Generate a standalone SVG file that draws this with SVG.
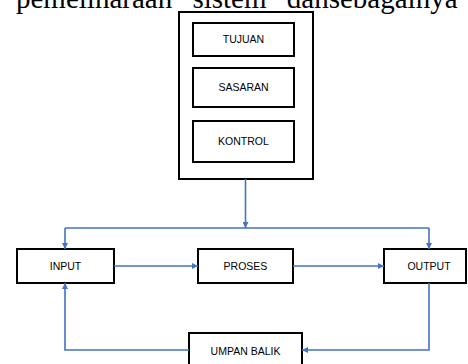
<svg xmlns="http://www.w3.org/2000/svg" width="468" height="364" viewBox="0 0 468 364">
<style>
.box{fill:#fff;stroke:#000;stroke-width:2}
.lbl{font-family:"Liberation Sans",Arial,sans-serif;font-size:10.5px;fill:#000;text-anchor:middle}
.con{fill:none;stroke:#4472C4;stroke-width:1.6}
.top{font-family:"Liberation Serif","Times New Roman",serif;font-size:29px;fill:#000}
</style>
<defs>
<marker id="ah" viewBox="0 0 10 10" refX="10" refY="5" markerWidth="6" markerHeight="6" markerUnits="userSpaceOnUse" orient="auto">
<path d="M0,0 L10,5 L0,10 z" fill="#4472C4"/>
</marker>
</defs>
<rect width="468" height="364" fill="#fff"/>
<g id="caption">
<text class="top" x="16" y="8" word-spacing="13">pemeliharaan sistem dansebagainya</text>
</g>
<g id="container"><rect class="box" x="179" y="12" width="134" height="167"/></g>
<g id="tujuan"><rect class="box" x="193" y="23" width="101" height="33"/><text class="lbl" x="243.5" y="43">TUJUAN</text></g>
<g id="sasaran"><rect class="box" x="193" y="68" width="101" height="39"/><text class="lbl" x="243.5" y="91">SASARAN</text></g>
<g id="kontrol"><rect class="box" x="193" y="121" width="101" height="41"/><text class="lbl" x="243.5" y="145">KONTROL</text></g>
<g id="input"><rect class="box" x="17" y="249" width="97" height="34"/><text class="lbl" x="65.5" y="270">INPUT</text></g>
<g id="proses"><rect class="box" x="198" y="249" width="95" height="34"/><text class="lbl" x="245.5" y="270">PROSES</text></g>
<g id="output"><rect class="box" x="384" y="249" width="82" height="34"/><text class="lbl" x="429" y="270">OUTPUT</text></g>
<g id="umpanbalik"><rect class="box" x="189" y="333" width="113" height="40"/><text class="lbl" x="245.5" y="355">UMPAN BALIK</text></g>
<g id="connectors">
<path class="con" d="M245.5,179 V228" marker-end="url(#ah)"/>
<path class="con" d="M65,228 H429"/>
<path class="con" d="M65,228 V249" marker-end="url(#ah)"/>
<path class="con" d="M429,228 V249" marker-end="url(#ah)"/>
<path class="con" d="M114,266 H198" marker-end="url(#ah)"/>
<path class="con" d="M293,266 H384" marker-end="url(#ah)"/>
<path class="con" d="M429,283 V350 H302" marker-end="url(#ah)"/>
<path class="con" d="M189,350 H65 V283" marker-end="url(#ah)"/>
</g>
</svg>
